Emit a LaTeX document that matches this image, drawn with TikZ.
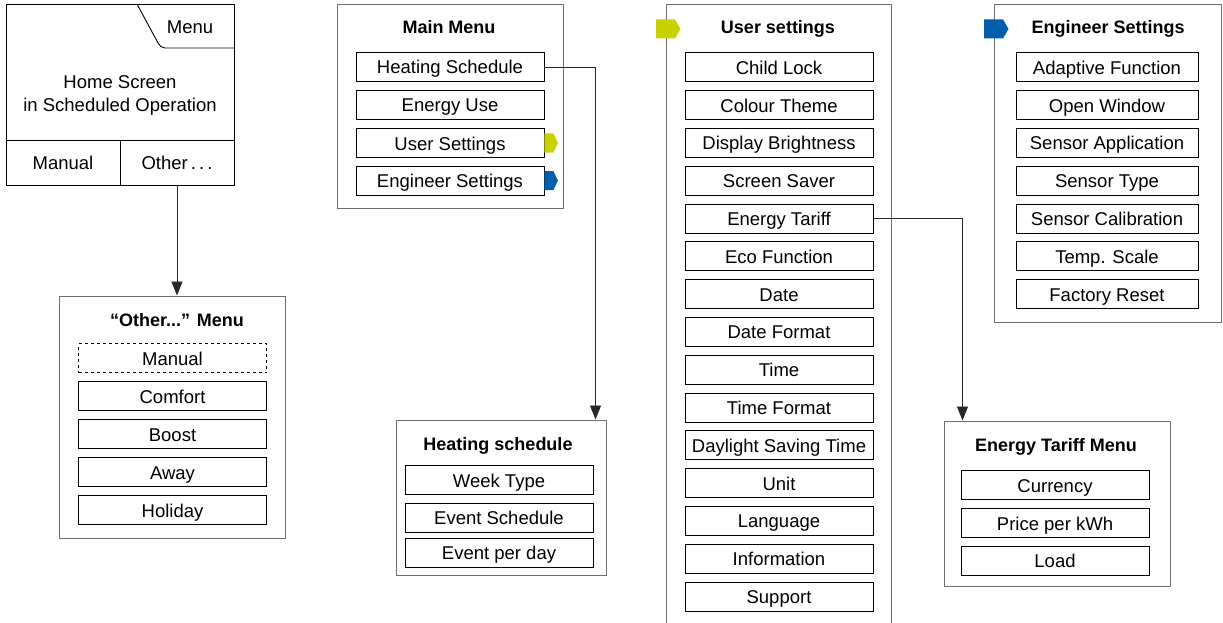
\documentclass[tikz,border=0pt]{standalone}
\usepackage{fontspec}
\setmainfont{Liberation Sans}
\usetikzlibrary{arrows.meta}
\definecolor{framegray}{RGB}{110,110,110}
\definecolor{linegray}{RGB}{40,40,40}
\definecolor{userlime}{RGB}{200,210,0}
\definecolor{engblue}{RGB}{0,94,170}
\tikzset{
  menuframe/.style={draw=framegray, line width=1pt, inner sep=0pt},
  menuitem/.style={draw, line width=0.8pt, minimum width=188pt, minimum height=29pt,
    inner sep=0pt, text height=15pt, text depth=1pt, font=\fontsize{18.5}{21}\selectfont},
  menutitle/.style={inner sep=0pt, text height=14pt, text depth=2pt, font=\bfseries\fontsize{18}{21}\selectfont},
  plaintext/.style={inner sep=0pt, font=\fontsize{18.5}{23}\selectfont},
  flow/.style={draw=linegray, line width=0.9pt, -{Triangle[width=11pt,length=14pt]}},
}
\begin{document}
\begin{tikzpicture}[x=1pt,y=-1pt]
  \useasboundingbox (0,0) rectangle (1223,623);
  % home screen
  \node[draw, line width=0.9pt, minimum width=228pt, minimum height=181pt, inner sep=0pt] (homeBox) at (120,94.5) {};
  \node[draw, line width=0.9pt, minimum width=114pt, minimum height=45pt, inner sep=0pt] (manualBtn) at (63,162.5) {};
  \node[draw, line width=0.9pt, minimum width=114pt, minimum height=45pt, inner sep=0pt] (otherBtn) at (177,162.5) {};
  \node[plaintext] (manualTxt) at (manualBtn) {Manual};
  \node[plaintext] (otherTxt) at (otherBtn) {Other\,.\,.\,.};
  \draw[line width=0.9pt] (137,4) -- (158,43) to[out=-60,in=180] (165,48) -- (234,48);
  \node[plaintext] (menuTxt) at (190,27) {Menu};
  \node[plaintext, align=center] (homeTxt) at (120,95) {Home Screen\\in Scheduled Operation};

  % other menu
  \node[menuframe, minimum width=226pt, minimum height=242pt] (otherBox) at (172,417) {};
  \node[menutitle] (otherTitle) at (177,320) {“Other...” Menu};
  \node[menuitem, dashed, line width=0.6pt] (omManual) at (172.5,358) {Manual};
  \node[menuitem] (omComfort) at (172.5,396) {Comfort};
  \node[menuitem] (omBoost) at (172.5,434) {Boost};
  \node[menuitem] (omAway) at (172.5,472) {Away};
  \node[menuitem] (omHoliday) at (172.5,510) {Holiday};
  \draw[flow] (otherBtn.south) -- (otherBox.north -| otherBtn.south);

  % main menu
  \node[menuframe, minimum width=226pt, minimum height=203pt] (mainBox) at (450,106.5) {};
  \node[menutitle] (mainTitle) at (449,28) {Main Menu};
  \node[menuitem] (mmHeat) at (450,67) {Heating Schedule};
  \node[menuitem] (mmEnergy) at (450,105) {Energy Use};
  \node[menuitem] (mmUser) at (450,143) {User Settings};
  \node[menuitem] (mmEng) at (450,180.5) {Engineer Settings};
  \fill[userlime] (mmUser.east) ++(0,-9.5) -- ++(9,0) -- ++(4.5,9.5) -- ++(-4.5,9.5) -- ++(-9,0) -- cycle;
  \fill[engblue] (mmEng.east) ++(0,-9.5) -- ++(9,0) -- ++(4.5,9.5) -- ++(-4.5,9.5) -- ++(-9,0) -- cycle;

  % heating schedule
  \node[menuframe, minimum width=210pt, minimum height=155pt] (hsBox) at (501,497.5) {};
  \node[menutitle] (hsTitle) at (498,444) {Heating schedule};
  \node[menuitem] (hsWeek) at (499,480) {Week Type};
  \node[menuitem] (hsEvent) at (499,517.5) {Event Schedule};
  \node[menuitem] (hsPerDay) at (499,552.5) {Event per day};
  \draw[flow] (mmHeat.east) -| ([xshift=-11pt]hsBox.north east);

  % user settings
  \node[menuframe, minimum width=225pt, minimum height=660pt] (usBox) at (778.5,335) {};
  \node[menutitle] (usTitle) at (778,28) {User settings};
  \fill[userlime] (656,19.5) -- (675,19.5) -- (680.5,29) -- (675,38.5) -- (656,38.5) -- cycle;
  \foreach \lbl [count=\i] in {Child Lock, Colour Theme, Display Brightness, Screen Saver,
      Energy Tariff, Eco Function, Date, Date Format, Time, Time Format,
      Daylight Saving Time, Unit, Language, Information, Support}
    \node[menuitem] (us\i) at (779,29.5+37.8*\i) {\lbl};

  % energy tariff menu
  \node[menuframe, minimum width=226pt, minimum height=165pt] (etBox) at (1057,503.5) {};
  \node[menutitle] (etTitle) at (1056,445) {Energy Tariff Menu};
  \node[menuitem] (etCurrency) at (1055,485) {Currency};
  \node[menuitem] (etPrice) at (1055,523) {Price per kWh};
  \node[menuitem] (etLoad) at (1055,560.5) {Load};
  \draw[flow] (us5.east) -| ([xshift=19pt]etBox.north west);

  % engineer settings
  \node[menuframe, minimum width=227pt, minimum height=317pt] (esBox) at (1108,163.5) {};
  \node[menutitle] (esTitle) at (1108,28) {Engineer Settings};
  \fill[engblue] (984,19.5) -- (1003,19.5) -- (1008.5,29) -- (1003,38.5) -- (984,38.5) -- cycle;
  \foreach \lbl [count=\i] in {Adaptive Function, Open Window, Sensor Application,
      Sensor Type, Sensor Calibration, Temp. Scale, Factory Reset}
    \node[menuitem, minimum width=182pt] (es\i) at (1107,29.5+37.8*\i) {\lbl};
\end{tikzpicture}
\end{document}
